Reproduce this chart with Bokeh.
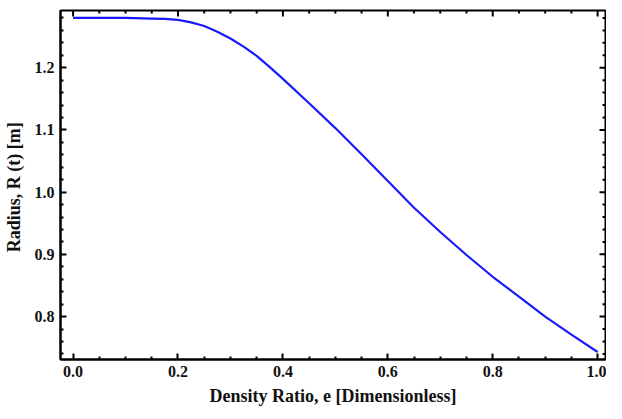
import numpy as np
from bokeh.plotting import figure
from bokeh.models import LinearAxis, FixedTicker, Range1d, PrintfTickFormatter
from bokeh.embed import file_html
from bokeh.resources import INLINE

# Data
density_ratio = [0.0, 0.05, 0.10, 0.15, 0.175, 0.20, 0.225, 0.25, 0.275, 0.30,
                 0.325, 0.35, 0.375, 0.40, 0.45, 0.50, 0.55, 0.60, 0.65,
                 0.70, 0.75, 0.80, 0.85, 0.90, 0.95, 1.00]
radius = [1.280, 1.280, 1.280, 1.279, 1.2785, 1.277, 1.273, 1.267, 1.258, 1.247,
          1.234, 1.219, 1.201, 1.182, 1.143, 1.103, 1.061, 1.018, 0.975,
          0.936, 0.899, 0.864, 0.832, 0.800, 0.771, 0.743]

x_ticks = [0.0, 0.2, 0.4, 0.6, 0.8, 1.0]
y_ticks = [0.8, 0.9, 1.0, 1.1, 1.2]
x_minor = [round(v, 3) for v in np.arange(-0.0, 1.0001, 0.05) if round(v, 3) not in x_ticks]
y_minor = [round(v, 3) for v in np.arange(0.74, 1.2901, 0.02) if round(v, 3) not in y_ticks]

x_lo, x_hi = -0.024, 1.015
y_lo, y_hi = 0.731, 1.292

x_label = "Density Ratio, e [Dimensionless]"
y_label = "Radius,  R (t) [m]"

FONT = "Liberation Serif"

p = figure(width=606, height=410, output_backend="svg", toolbar_location=None,
           x_range=Range1d(x_lo, x_hi), y_range=Range1d(y_lo, y_hi),
           min_border_left=54, min_border_right=1, min_border_top=10, min_border_bottom=51,
           x_axis_location=None, y_axis_location=None)

p.grid.visible = False
p.outline_line_color = "black"
p.outline_line_width = 2
p.background_fill_color = "white"
p.border_fill_color = "white"

def make_axis(major, minor, label, label_standoff):
    ax = LinearAxis(ticker=FixedTicker(ticks=major, minor_ticks=minor))
    ax.axis_line_width = 2
    ax.axis_line_color = "black"
    ax.major_tick_in = 6
    ax.major_tick_out = 0
    ax.minor_tick_in = 3
    ax.minor_tick_out = 0
    ax.major_tick_line_width = 2
    ax.minor_tick_line_width = 2
    ax.formatter = PrintfTickFormatter(format="%.1f")
    ax.major_label_text_font = FONT
    ax.major_label_text_font_style = "bold"
    ax.major_label_text_font_size = "16px"
    ax.major_label_text_color = "#111111"
    ax.major_label_standoff = 6
    ax.axis_label = label
    ax.axis_label_text_font = FONT
    ax.axis_label_text_font_style = "bold"
    ax.axis_label_text_font_size = "18px"
    ax.axis_label_text_color = "#111111"
    ax.axis_label_standoff = label_standoff
    return ax

p.add_layout(make_axis(x_ticks, x_minor, x_label, 6), "below")
p.add_layout(make_axis(y_ticks, y_minor, y_label, 8), "left")

# mirrored inside ticks on the top and right frame edges
p.ray(x=x_ticks, y=[y_hi] * len(x_ticks), length=6, length_units="screen",
      angle=-np.pi / 2, line_color="black", line_width=2)
p.ray(x=x_minor, y=[y_hi] * len(x_minor), length=3, length_units="screen",
      angle=-np.pi / 2, line_color="black", line_width=2)
p.ray(x=[x_hi] * len(y_ticks), y=y_ticks, length=6, length_units="screen",
      angle=np.pi, line_color="black", line_width=2)
p.ray(x=[x_hi] * len(y_minor), y=y_minor, length=3, length_units="screen",
      angle=np.pi, line_color="black", line_width=2)

p.line(density_ratio, radius, line_color="#1a1aff", line_width=2.2)

open("out.html", "w").write(file_html(p, INLINE))
